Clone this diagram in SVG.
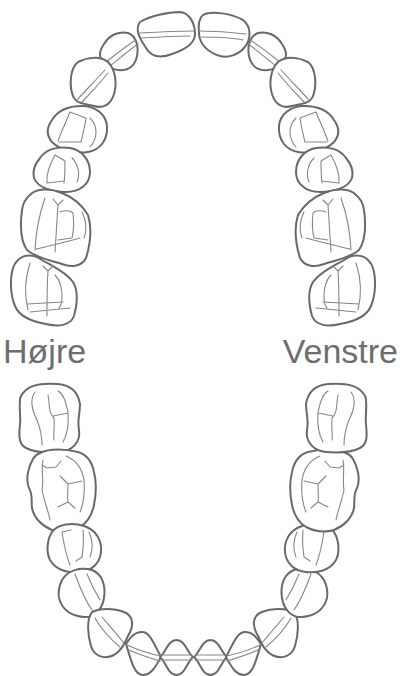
<svg xmlns="http://www.w3.org/2000/svg" xmlns:xlink="http://www.w3.org/1999/xlink" width="401" height="676" viewBox="0 0 401 676">
<style>
.o{fill:#fff;stroke:#68696c;stroke-width:2;stroke-linejoin:round}
.i{fill:none;stroke:#85868a;stroke-width:1.1;stroke-linecap:round;stroke-linejoin:round}
.lbl{font-family:"Liberation Sans",Arial,sans-serif;font-size:34px;fill:#6d6e71}
</style>
<defs>
<g id="s-u2">
<path class="o" d="M104,44 C110,34 120,31 128,33 C136,36 139,46 137,56 C135,66 128,71 118,70 C108,69 100,62 100,54 C100,50 102,47 104,44 Z"/>
<path class="i" d="M106,62 C115,55 126,46 136,40 M110,66 C119,59 129,50 138,44"/>
</g>
<g id="s-u3">
<path class="o" d="M78,62 C88,57 100,56 108,62 C116,70 117,84 114,94 C111,104 104,109 94,106 C86,104 76,104 73,96 C69,86 70,68 78,62 Z"/>
<path class="i" d="M77,100 C86,90 96,80 105,70 M82,102 C91,93 100,83 108,73"/>
</g>
<g id="s-u4">
<path class="o" d="M52,120 C58,110 70,106 82,106 C95,106 106,114 107,126 C108,140 100,150 88,152 C75,154 60,150 52,142 C46,135 47,127 52,120 Z"/>
<path class="i" d="M70,112 C66,122 61,132 58,141 M70,112 L86,118 M86,118 C85,126 83,134 81,142 M59,142 L81,142 M90,118 C98,126 98,138 90,147"/>
</g>
<g id="s-u5">
<path class="o" d="M40,158 C46,149 58,146 70,148 C82,150 90,160 90,172 C90,184 80,192 66,192 C52,192 38,188 34,178 C32,170 35,164 40,158 Z"/>
<path class="i" d="M55,155 C50,164 46,174 47,183 M55,155 L65,161 M65,161 C65,168 65,176 64,183 M47,183 L64,181 M72,158 C79,165 80,175 77,182"/>
</g>
<g id="s-u6">
<path class="o" d="M30,195 C36,188 50,188 62,193 C72,197 82,205 88,215 C92,228 90,245 86,258 C82,266 72,268 62,264 C50,260 36,258 27,250 C20,240 20,225 22,210 C23,203 26,198 30,195 Z"/>
<path class="i" d="M45,198 C40,212 36,230 35,250 M58,205 C57,220 56,235 55,252 M58,205 L53,199 M58,205 L63,200 M60,212 C66,210 70,210 73,213 C74,222 74,230 72,238 L58,240 M36,249 C50,246 65,242 80,238 M82,212 C86,220 87,230 84,238"/>
</g>
<g id="s-u7">
<path class="o" d="M18,260 C24,254 34,254 42,260 C52,266 66,272 73,282 C79,292 77,305 74,316 C70,326 58,327 46,324 C34,322 20,318 15,306 C10,294 10,278 13,268 C14,264 16,262 18,260 Z"/>
<path class="i" d="M30,263 C25,278 24,294 28,310 M48,271 C47,285 47,300 47,316 M48,271 L43,266 M48,271 L53,266 M55,275 C60,280 62,288 62,296 C62,302 61,306 59,308 M27,304 L63,302 M30,312 L70,308"/>
</g>
<g id="s-l1">
<path class="o" d="M160,657 C166,652 168,640 176.5,640 C185,640 187,652 193,657 C187,662 185,675 176.5,675 C168,675 166,662 160,657 Z"/>
<path class="i" d="M161,655 L192,655 M161,660 L192,660"/>
</g>
<g id="s-l2">
<path class="o" d="M126,644 C130,638 134,632 142,632 C150,632 154,644 161,657 C157,664 152,675 143,675 C134,675 131,660 126,644 Z"/>
<path class="i" d="M127,645 C138,650 150,654 161,656 M129,650 C140,655 150,658 160,661"/>
</g>
<g id="s-l3">
<path class="o" d="M92,612 C100,608 114,608 124,612 C134,616 134,626 128,636 C124,644 122,650 114,655 C104,660 94,656 91,646 C88,636 86,620 92,612 Z"/>
<path class="i" d="M95,618 C100,627 108,637 120,647 M102,617 C108,624 116,633 124,643"/>
</g>
<g id="s-l4">
<path class="o" d="M62,580 C68,570 80,567 92,570 C102,574 106,585 104,598 C102,610 94,618 84,617 C72,616 62,610 59,598 C58,592 59,586 62,580 Z"/>
<path class="i" d="M75,574 C80,588 85,600 92,610 M87,574 C91,584 95,592 100,600"/>
</g>
<g id="s-l5">
<path class="o" d="M52,532 C58,524 72,522 84,526 C96,530 102,540 101,552 C100,563 92,571 80,572 C68,573 56,570 50,560 C46,552 47,540 52,532 Z"/>
<path class="i" d="M62,532 C64,545 66,555 70,565 M83,530 C84,540 83,550 82,557 L76,561 M62,532 L71,530 M89,532 C93,540 93,550 90,557"/>
</g>
<g id="s-l6">
<path class="o" d="M40,453 C50,448 66,449 78,452 C88,455 92,462 94,472 C97,484 96,495 94,505 C92,515 88,522 80,527 C72,531 62,533 52,530 C42,526 34,518 32,508 C31,500 33,495 29,488 C25,478 29,466 33,459 C35,456 37,454 40,453 Z"/>
<path class="i" d="M43,460 C41,470 44,480 42,490 C44,500 48,510 50,520 M42,465 L47,468 L56,467 L61,461 M66,456 C76,460 82,468 84,480 C85,492 84,502 80,512 M60,476 L68,484 L82,481 M68,484 C68,492 67,498 68,502 L58,507 M68,502 L75,508"/>
</g>
<g id="s-l7">
<path class="o" d="M24,392 C30,384 44,383 58,384 C70,385 78,392 80,404 C80,414 77,420 79,430 C81,442 72,451 60,452 C48,453 36,453 26,448 C18,444 19,434 20,424 C21,418 19,410 20,400 C20,396 22,394 24,392 Z"/>
<path class="i" d="M35,392 C29,400 32,410 37,420 C41,430 42,438 42,445 M48,395 C50,405 48,412 54,418 C55,428 53,435 54,440 M58,391 C65,395 66,405 68,412 C69,425 67,435 63,442 M53,416 L68,413"/>
</g>
</defs>

<g id="teeth-upper">
<g id="tooth-11">
<path class="o" d="M140,22 C150,16 168,12 180,12 C190,13 195,24 195,34 C195,44 184,50 172,54 C162,58 152,58 146,48 C141,40 134,30 140,22 Z"/>
<path class="i" d="M140,33 C158,32 176,31 194,31 M142,38 C158,37 174,36 190,36"/>
</g>
<g id="tooth-21">
<path class="o" d="M203,15 C212,10 232,14 243,20 C252,27 251,40 244,48 C238,55 228,58 220,56 C210,53 200,46 199,34 C198,25 199,18 203,15 Z"/>
<path class="i" d="M199,31 C215,31 230,32 246,34 M201,37 C215,37 230,37 243,40"/>
</g>
<g id="tooth-12"><use xlink:href="#s-u2"/></g>
<g id="tooth-13"><use xlink:href="#s-u3"/></g>
<g id="tooth-14"><use xlink:href="#s-u4"/></g>
<g id="tooth-15"><use xlink:href="#s-u5"/></g>
<g id="tooth-16"><use xlink:href="#s-u6"/></g>
<g id="tooth-17"><use xlink:href="#s-u7"/></g>
<g id="tooth-22" transform="matrix(-1 0 0 1 386 0)"><use xlink:href="#s-u2"/></g>
<g id="tooth-23" transform="matrix(-1 0 0 1 386 0)"><use xlink:href="#s-u3"/></g>
<g id="tooth-24" transform="matrix(-1 0 0 1 386 0)"><use xlink:href="#s-u4"/></g>
<g id="tooth-25" transform="matrix(-1 0 0 1 386 0)"><use xlink:href="#s-u5"/></g>
<g id="tooth-26" transform="matrix(-1 0 0 1 386 0)"><use xlink:href="#s-u6"/></g>
<g id="tooth-27" transform="matrix(-1 0 0 1 386 0)"><use xlink:href="#s-u7"/></g>
</g>

<g id="teeth-lower">
<g id="tooth-47"><use xlink:href="#s-l7"/></g>
<g id="tooth-46"><use xlink:href="#s-l6"/></g>
<g id="tooth-45"><use xlink:href="#s-l5"/></g>
<g id="tooth-44"><use xlink:href="#s-l4"/></g>
<g id="tooth-43"><use xlink:href="#s-l3"/></g>
<g id="tooth-42"><use xlink:href="#s-l2"/></g>
<g id="tooth-41"><use xlink:href="#s-l1"/></g>
<g id="tooth-31" transform="matrix(-1 0 0 1 387 0)"><use xlink:href="#s-l1"/></g>
<g id="tooth-32" transform="matrix(-1 0 0 1 387 0)"><use xlink:href="#s-l2"/></g>
<g id="tooth-33" transform="matrix(-1 0 0 1 386 0)"><use xlink:href="#s-l3"/></g>
<g id="tooth-34" transform="matrix(-1 0 0 1 386 0)"><use xlink:href="#s-l4"/></g>
<g id="tooth-35" transform="matrix(-1 0 0 1 386 0)"><use xlink:href="#s-l5"/></g>
<g id="tooth-36" transform="matrix(-1 0 0 1 386 0)"><use xlink:href="#s-l6"/></g>
<g id="tooth-37" transform="matrix(-1 0 0 1 386 0)"><use xlink:href="#s-l7"/></g>
</g>

<g id="connectors"></g>

<g id="labels">
<text class="lbl" x="3" y="363">Højre</text>
<text class="lbl" x="398" y="363" text-anchor="end">Venstre</text>
</g>
</svg>
